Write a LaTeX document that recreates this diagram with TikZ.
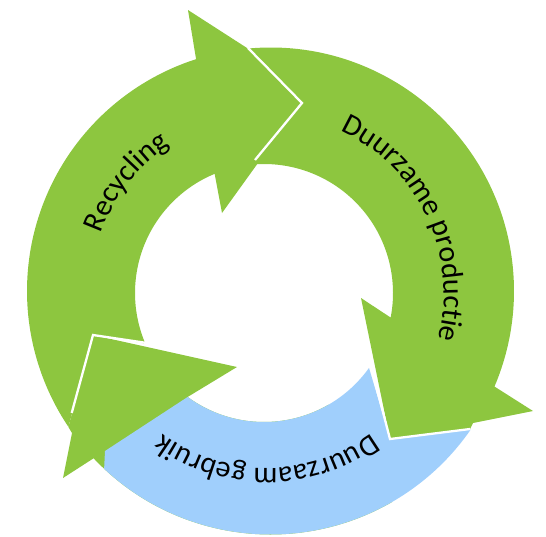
\documentclass[tikz,border=0pt]{standalone}
\usepackage{fontspec}
\setmainfont{Carlito}
\usetikzlibrary{calc,decorations.text}
\definecolor{leaf}{RGB}{141,198,63}
\definecolor{sky}{RGB}{160,207,252}
\newcommand\arcfont{\fontsize{30}{33}\selectfont}
\begin{document}
\begin{tikzpicture}[x=1pt,y=1pt,
  band/.style={fill=leaf, draw=none},
  useband/.style={fill=sky, draw=none},
  seam/.style={draw=white, line width=2.3pt, line join=miter},
  arclabel/.style={decorate, decoration={text along path, text align=center, text={|\arcfont|#1}}}]
\useasboundingbox (0,0) rectangle (546,-536);
\coordinate (Co) at (270.5,-291);
\coordinate (Ci) at (264,-293);
\coordinate (Ct) at (267,-292);

% Duurzame productie
\fill[band] ([shift={(95.29:243.5)}]Co) arc[start angle=95.29, end angle=-23.1, radius=243.5pt]
  -- (533,-411) -- (473,-423) -- (470,-429) -- (390,-439) -- (361,-298)
  -- ([shift={(-10.97:129)}]Ci) arc[start angle=-10.97, end angle=93.55, radius=129pt]
  -- (302,-103) -- cycle;

% Duurzaam gebruik (green arrow beneath)
\fill[band] ([shift={(-60:243.5)}]Co) arc[start angle=-60, end angle=-136.6, radius=243.5pt]
  -- (63,-478) -- (72,-433) -- (68.4,-427) -- (93,-335) -- (237,-367)
  -- ([shift={(-126.3:129)}]Ci) arc[start angle=-126.3, end angle=-60, radius=129pt] -- cycle;

% Duurzaam gebruik (blue body)
\fill[useband] ([shift={(-34.7:243.5)}]Co) arc[start angle=-34.7, end angle=-133.1, radius=243.5pt]
  -- (105,-451) -- ([shift={(-126.3:129)}]Ci) arc[start angle=-126.3, end angle=-35.5, radius=129pt]
  -- (390,-439) -- cycle;

% Recycling
\fill[band] ([shift={(213.9:243.5)}]Co) arc[start angle=213.9, end angle=107.8, radius=243.5pt]
  -- (188,-10) -- (247,-48) -- (302,-103) -- (258,-163) -- (222,-213)
  -- ([shift={(112.5:129)}]Ci) arc[start angle=112.5, end angle=203.1, radius=129pt]
  -- (93,-335) -- cycle;

% white seams
\draw[seam] (248,-48) -- (302,-103) -- (255,-160);
\draw[seam] (470,-429) -- (390,-439) -- (372,-370);
\draw[seam] (147,-343) -- (93,-335) -- (71.7,-413);

% labels
\path[arclabel=Recycling] ([shift={(172:176)}]Ct) arc[start angle=172, end angle=112, radius=176pt];
\path[arclabel=Duurzame productie] ([shift={(77:177)}]Ct) arc[start angle=77, end angle=-27, radius=177pt];
\path[arclabel=Duurzaam gebruik] ([shift={(-40:176)}]Ct) arc[start angle=-40, end angle=-140, radius=176pt];
\end{tikzpicture}
\end{document}
